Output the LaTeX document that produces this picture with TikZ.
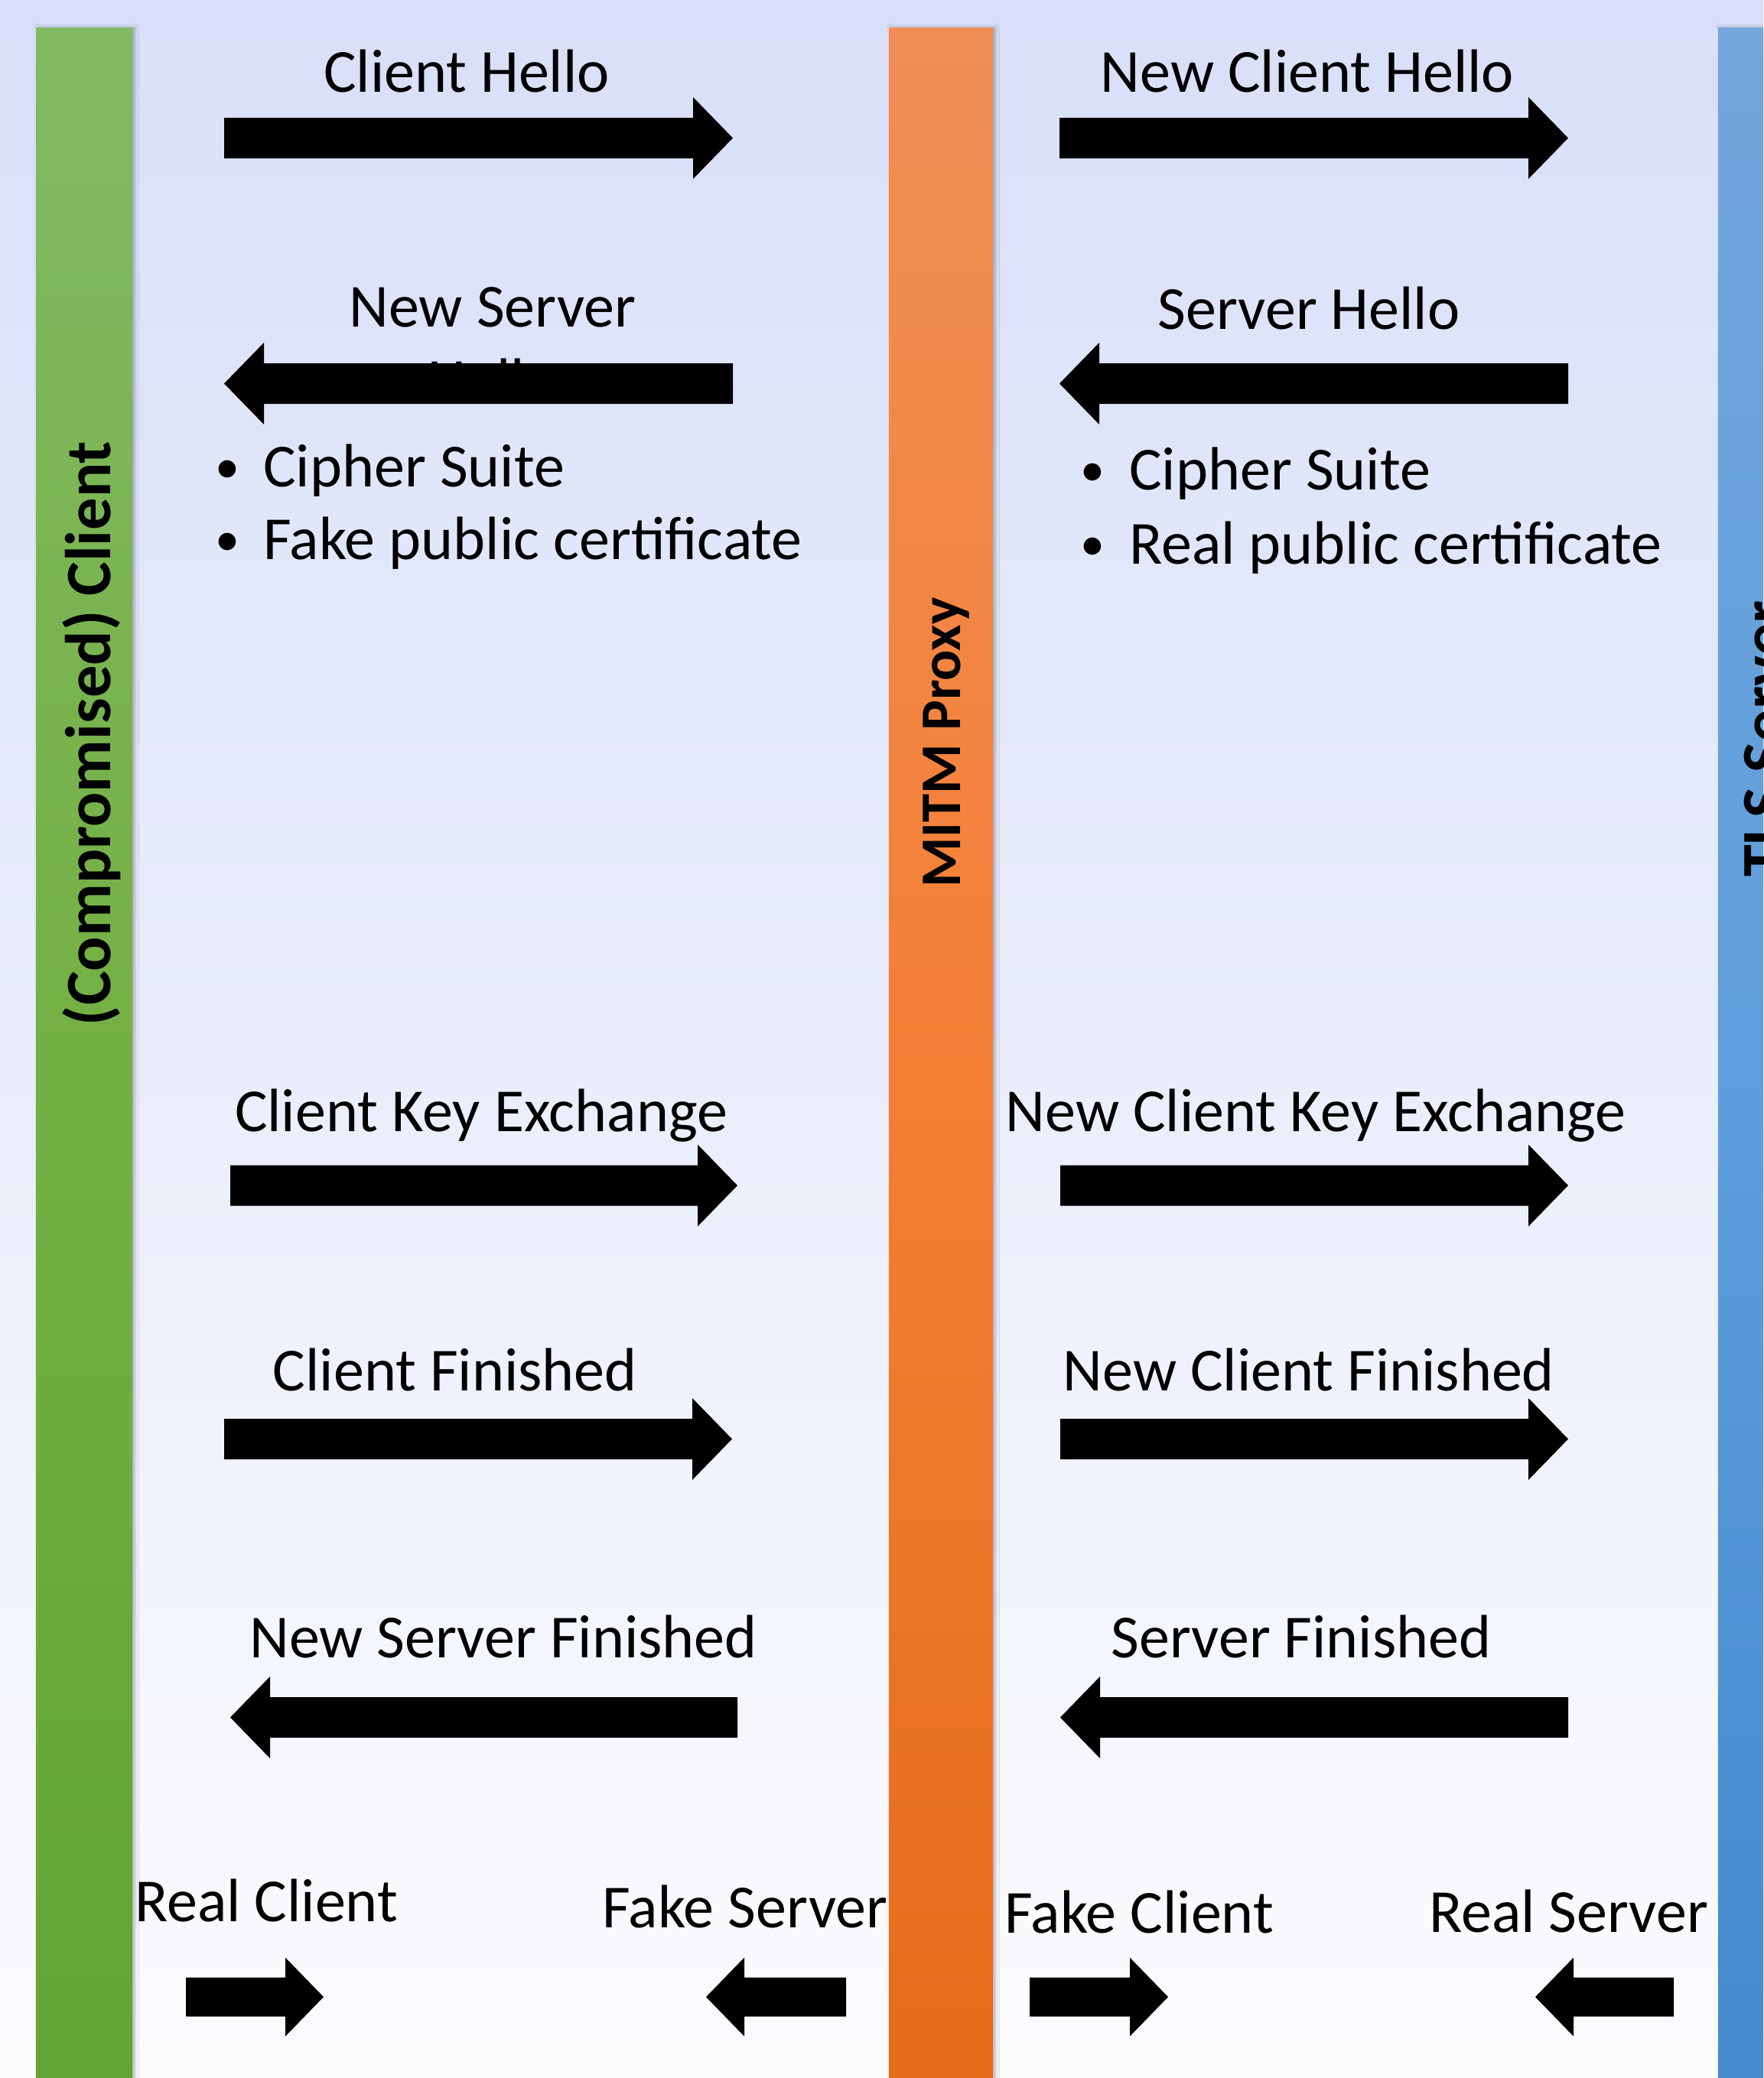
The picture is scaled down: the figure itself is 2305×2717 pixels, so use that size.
\documentclass[tikz,border=0pt]{standalone}
\usepackage{fontspec}
\setmainfont{Carlito}
\usetikzlibrary{shadows.blur}
\newcommand\msgfont{\fontsize{80}{97}\selectfont}
\newcommand\dotfont{\fontsize{64}{80}\selectfont}
\newcommand\lanefont{\fontsize{84.5}{100}\selectfont\bfseries}
\newcommand\proxyfont{\fontsize{75}{90}\selectfont\bfseries}
\definecolor{bgtop}{HTML}{D8DFF8}
\definecolor{bgbot}{HTML}{FBFCFE}
\definecolor{gtop}{HTML}{82BA64}
\definecolor{gmid}{HTML}{73B043}
\definecolor{gbot}{HTML}{62A436}
\definecolor{otop}{HTML}{F08E56}
\definecolor{omid}{HTML}{F47F35}
\definecolor{obot}{HTML}{E56C18}
\definecolor{btop}{HTML}{72A6DC}
\definecolor{bmid}{HTML}{5E9EDC}
\definecolor{bbot}{HTML}{4489CC}
\tikzset{
  msg/.style={inner sep=0pt, font=\msgfont, anchor=base},
  msgl/.style={inner sep=0pt, font=\msgfont, anchor=base west},
  bulletdot/.style={inner sep=0pt, font=\dotfont, anchor=base},
  lane/.style={blur shadow={shadow xshift=3pt, shadow yshift=0pt, shadow blur radius=5pt, shadow opacity=30}},
  lanelabel/.style={inner sep=0pt, rotate=90, anchor=base},
  pics/bigarrow/.style={code={
    \fill (0,-26.5) -- ({#1-52},-26.5) -- ({#1-52},-53.5) -- (#1,0) -- ({#1-52},53.5) -- ({#1-52},26.5) -- (0,26.5) -- cycle;}},
  pics/smallarrow/.style={code={
    \fill (0,-25.5) -- ({#1-50},-25.5) -- ({#1-50},-51.5) -- (#1,0) -- ({#1-50},51.5) -- ({#1-50},25.5) -- (0,25.5) -- cycle;}},
}
\begin{document}
\begin{tikzpicture}[x=1pt,y=-1pt]
\useasboundingbox (0,0) rectangle (2305,2717);
\clip (0,0) rectangle (2305,2717);
% background
\shade[top color=bgtop, bottom color=bgbot] (0,0) rectangle (2305,2717);
% lanes
\path[lane, top color=gtop, bottom color=gbot, middle color=gmid] (47,36) rectangle (173,2760);
\path[lane, top color=otop, bottom color=obot, middle color=omid] (1162,36) rectangle (1298,2760);
\path[lane, top color=btop, bottom color=bbot, middle color=bmid] (2246,36) rectangle (2380,2760);
\node[lanelabel, font=\lanefont] (clientlbl) at (144,959) {(Compromised) Client};
\node[lanelabel, font=\proxyfont] (proxylbl) at (1255,971) {MITM Proxy};
\node[lanelabel, font=\lanefont] (serverlbl) at (2335,966) {TLS Server};
% hello
\node[msg] (chl) at (610,120) {Client Hello};
\pic (cha) at (293,180.5) {bigarrow=665};
\node[msg] (nchl) at (1709,120) {New Client Hello};
\pic (ncha) at (1385,180.5) {bigarrow=665};
\node[inner sep=0pt, font=\msgfont, align=center, anchor=north] (nshl) at (644,375) {New Server\\Hello};
\pic[xscale=-1] (nsha) at (958,501.5) {bigarrow=665};
\node[msg] (shl) at (1711,430) {Server Hello};
\pic[xscale=-1] (sha) at (2050,501.5) {bigarrow=665};
% bullets
\node[bulletdot] (b1) at (297,631) {•};
\node[msgl] (b1t) at (344,636) {Cipher Suite};
\node[bulletdot] (b2) at (297,726) {•};
\node[msgl] (b2t) at (344,731) {Fake public certificate};
\node[bulletdot] (b3) at (1428,635) {•};
\node[msgl] (b3t) at (1476,640) {Cipher Suite};
\node[bulletdot] (b4) at (1428,732) {•};
\node[msgl] (b4t) at (1476,737) {Real public certificate};
% key exchange
\node[msg] (ckel) at (629,1479) {Client Key Exchange};
\pic (ckea) at (301,1550) {bigarrow=663};
\node[msg] (nckel) at (1720,1479) {New Client Key Exchange};
\pic (nckea) at (1386,1550) {bigarrow=664};
% finished
\node[msg] (cfl) at (595,1818) {Client Finished};
\pic (cfa) at (293,1881.5) {bigarrow=664};
\node[msg] (ncfl) at (1711,1818) {New Client Finished};
\pic (ncfa) at (1386,1881.5) {bigarrow=664};
\node[msg] (nsfl) at (658,2167) {New Server Finished};
\pic[xscale=-1] (nsfa) at (964,2245.5) {bigarrow=663};
\node[msg] (sfl) at (1701,2167) {Server Finished};
\pic[xscale=-1] (sfa) at (2050,2245.5) {bigarrow=664};
% endpoints
\node[msgl] (rcl) at (176,2512) {Real Client};
\pic (rca) at (243,2611) {smallarrow=180};
\node[msgl] (fsl) at (787,2520) {Fake Server};
\pic[xscale=-1] (fsa) at (1106,2611) {smallarrow=183};
\node[msgl] (fcl) at (1313,2527) {Fake Client};
\pic (fca) at (1346,2611) {smallarrow=181};
\node[msgl] (rsl) at (1868,2526) {Real Server};
\pic[xscale=-1] (rsa) at (2188,2611) {smallarrow=181};
\end{tikzpicture}
\end{document}
